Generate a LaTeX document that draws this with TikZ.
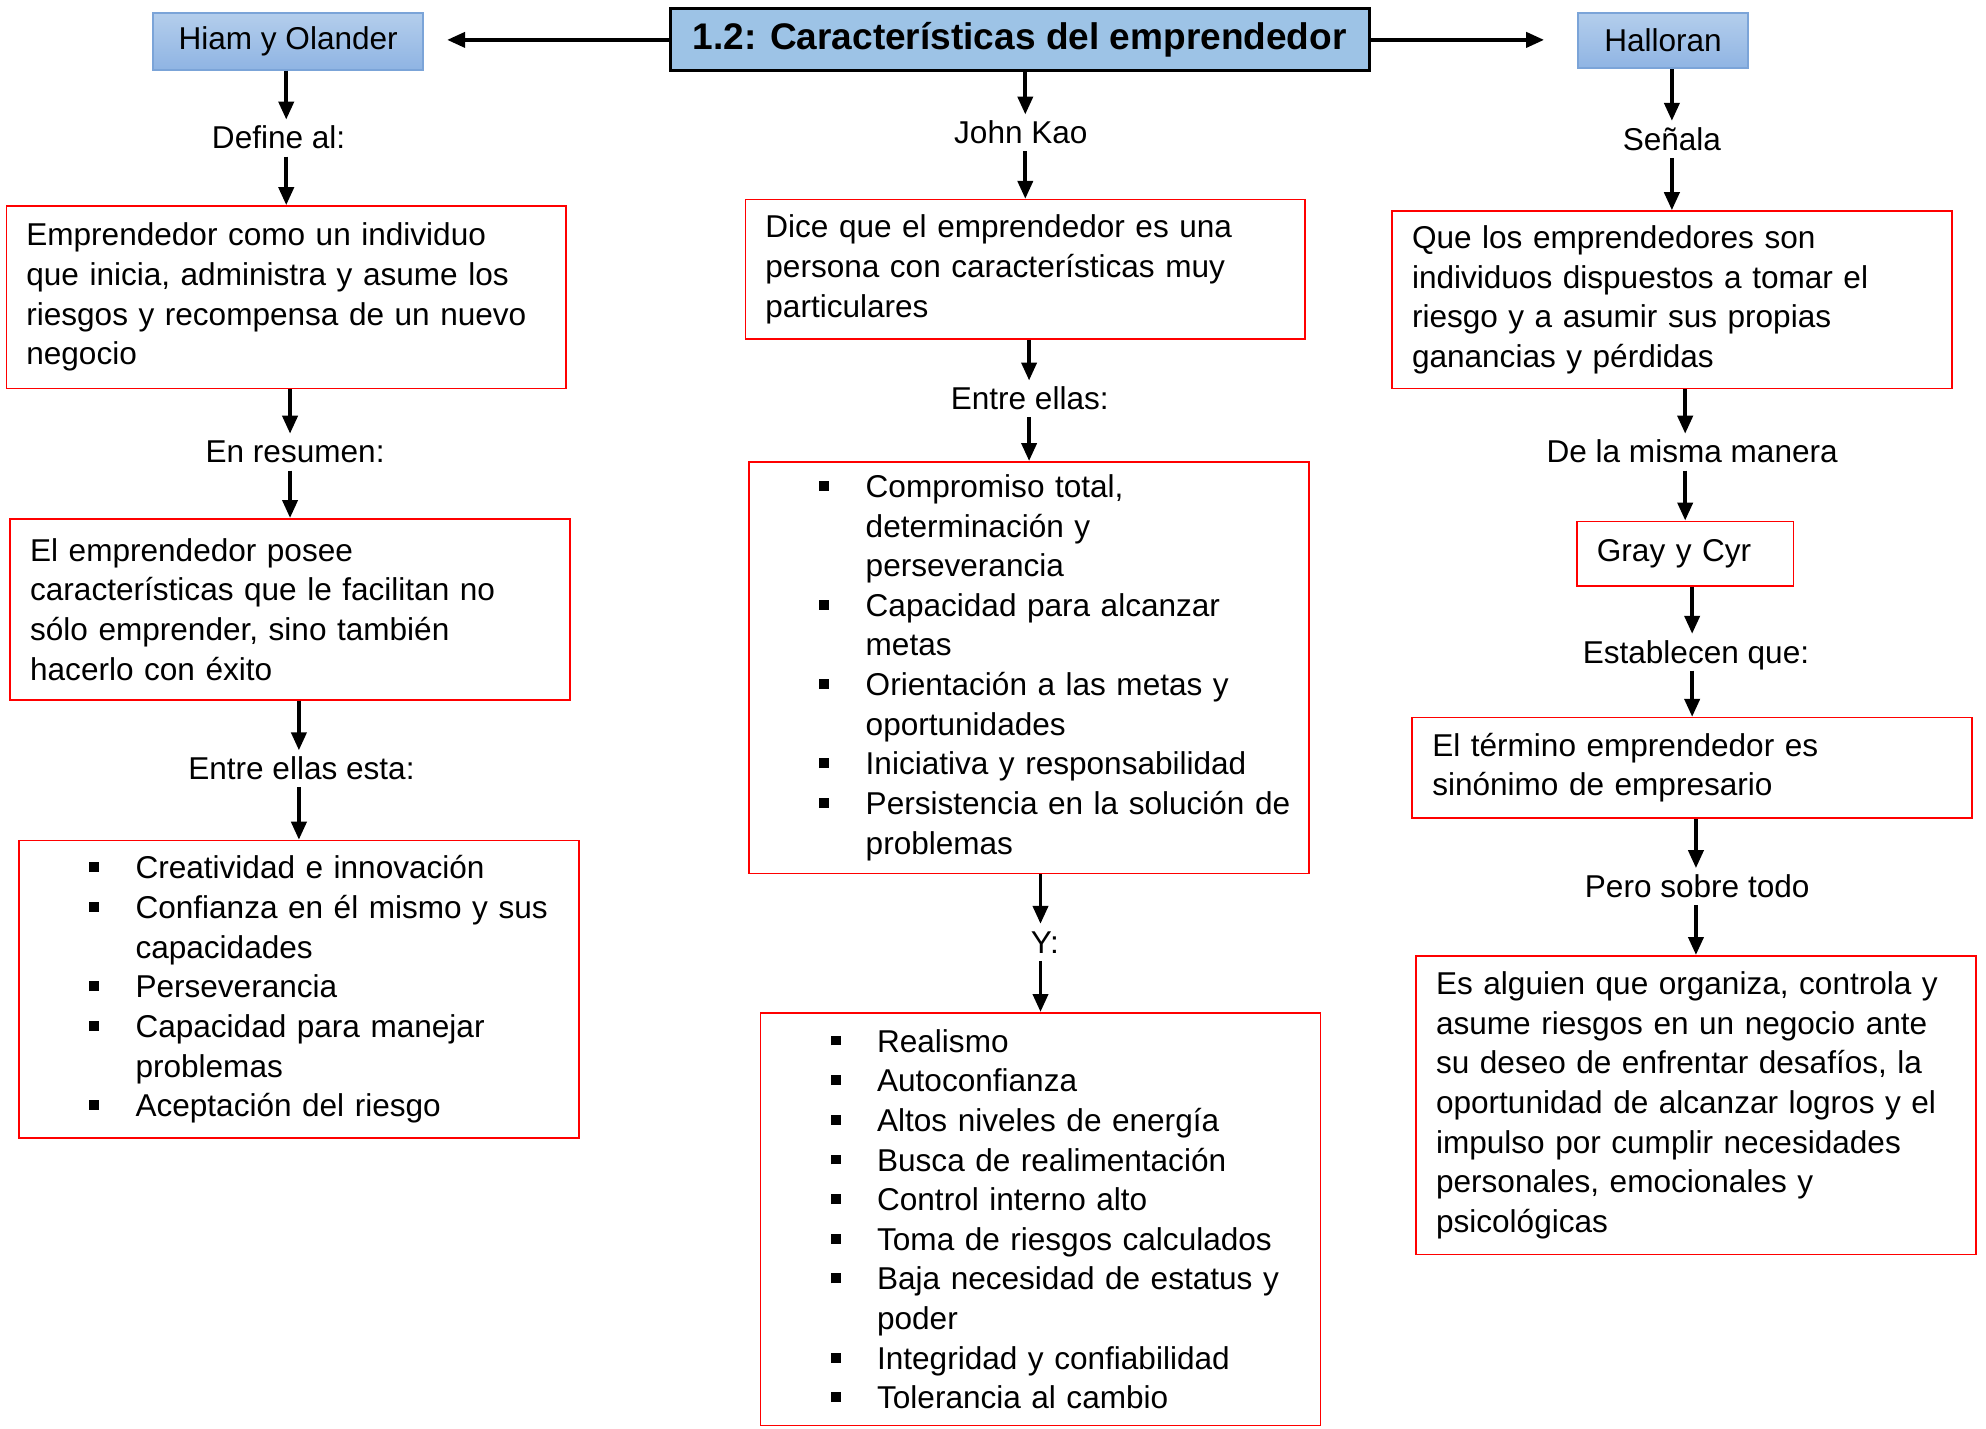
\documentclass[tikz,border=0pt]{standalone}
\usepackage{fontspec}
\setmainfont{Liberation Sans}
\usetikzlibrary{arrows.meta}

\definecolor{titleblue}{HTML}{9DC3E6}
\definecolor{authtop}{HTML}{B4CEEC}
\definecolor{authbot}{HTML}{8FB4E3}
\definecolor{authline}{HTML}{7BA4D8}

\newcommand\itm[1]{\mbox{\makebox[0.965cm][l]{\hspace{0.502cm}\rule[1.9pt]{2.8pt}{2.8pt}}#1}}
\newcommand\cnt[1]{\mbox{\hspace*{0.965cm}#1}}

\begin{document}
\begin{tikzpicture}
  [x=0.12666mm,y=-0.12666mm,
  txt/.style={font=\fontsize{8.98}{11.28}\selectfont},
  titlebox/.style={draw=black,line width=0.8pt,fill=titleblue,minimum width=6.99cm,minimum height=0.62cm,inner sep=0pt,font=\fontsize{10.54}{12}\selectfont\bfseries},
  authbox/.style={txt,draw=authline,line width=0.6pt,top color=authtop,bottom color=authbot,minimum height=0.57cm,inner sep=0pt},
  redbox/.style={txt,draw=red,line width=0.45pt,anchor=north,text width=5.198cm,inner xsep=0.2cm,inner ysep=0pt,align=left},
  link/.style={txt,inner xsep=1pt,inner ysep=1.5pt,text height=6.6pt,text depth=0.5pt},
  arr/.style={-{Triangle[length=1.8mm,width=1.5mm]},line width=1.1pt}]
  \useasboundingbox (0,0) rectangle (1568,1128);

  \node[titlebox] (title) at (805,31.5) {1.2: Características del emprendedor};
  \node[authbox,minimum width=2.698cm] (hiam) at (227.5,32.5) {Hiam y Olander};
  \node[authbox,minimum width=1.697cm,minimum height=0.557cm] (halloran) at (1313,32) {Halloran};

  % Hiam y Olander
  \node[link] (defineal) at (220,109) {Define al:};
  \node[redbox,minimum height=1.824cm] (hiamdef) at (226,162) {Emprendedor como un individuo\\que inicia, administra y asume los\\riesgos y recompensa de un nuevo\\negocio};
  \node[link] (resumen) at (233,357) {En resumen:};
  \node[redbox,minimum height=1.811cm] (hiamres) at (229,409) {El emprendedor posee\\características que le facilitan no\\sólo emprender, sino también\\hacerlo con éxito};
  \node[link] (entreesta) at (238,607) {Entre ellas esta:};
  \node[redbox,minimum height=2.977cm] (hiamlist) at (236,663) {\itm{Creatividad e innovación}\\ \itm{Confianza en él mismo y sus}\\ \cnt{capacidades}\\ \itm{Perseverancia}\\ \itm{Capacidad para manejar}\\ \cnt{problemas}\\ \itm{Aceptación del riesgo}};

  % John Kao
  \node[link] (kao) at (806,105) {John Kao};
  \node[redbox,minimum height=1.393cm] (kaodef) at (809.5,157) {Dice que el emprendedor es una\\persona con características muy\\particulares};
  \node[link] (entreellas) at (813,315) {Entre ellas:};
  \node[redbox,minimum height=4.116cm] (kaolist) at (812.5,364) {\itm{Compromiso total,}\\ \cnt{determinación y}\\ \cnt{perseverancia}\\ \itm{Capacidad para alcanzar}\\ \cnt{metas}\\ \itm{Orientación a las metas y}\\ \cnt{oportunidades}\\ \itm{Iniciativa y responsabilidad}\\ \itm{Persistencia en la solución de}\\ \cnt{problemas}};
  \node[link] (ylink) at (825,744) {Y:};
  \node[redbox,minimum height=4.129cm] (kaomore) at (821.5,799) {\itm{Realismo}\\ \itm{Autoconfianza}\\ \itm{Altos niveles de energía}\\ \itm{Busca de realimentación}\\ \itm{Control interno alto}\\ \itm{Toma de riesgos calculados}\\ \itm{Baja necesidad de estatus y}\\ \cnt{poder}\\ \itm{Integridad y confiabilidad}\\ \itm{Tolerancia al cambio}};

  % Halloran
  \node[link] (senala) at (1320,110) {Señala};
  \node[redbox,minimum height=1.773cm] (halldef) at (1320,166) {Que los emprendedores son\\individuos dispuestos a tomar el\\riesgo y a asumir sus propias\\ganancias y pérdidas};
  \node[link] (misma) at (1336,357) {De la misma manera};
  \node[redbox,text width=1.766cm,minimum height=0.646cm] (gray) at (1330.5,411) {Gray y Cyr};
  \node[link] (establecen) at (1339,515) {Establecen que:};
  \node[redbox,minimum height=1.001cm] (graydef) at (1336,566) {El término emprendedor es\\sinónimo de empresario};
  \node[link] (sobretodo) at (1340,700) {Pero sobre todo};
  \node[redbox,minimum height=2.989cm] (graymore) at (1339,754) {Es alguien que organiza, controla y\\asume riesgos en un negocio ante\\su deseo de enfrentar desafíos, la\\oportunidad de alcanzar logros y el\\impulso por cumplir necesidades\\personales, emocionales y\\psicológicas};

  \draw[arr,shorten >=0.23cm] (title.west) -- (title.west -| hiam.east);
  \draw[arr,shorten >=0.33cm] (title.east) -- (title.east -| halloran.west);

  \draw[arr] (hiamdef.north |- hiam.south) -- (hiamdef.north |- defineal.north);
  \draw[arr] (hiamdef.north |- defineal.south) -- (hiamdef.north);
  \draw[arr] (hiamres.north |- hiamdef.south) -- (hiamres.north |- resumen.north);
  \draw[arr] (hiamres.north |- resumen.south) -- (hiamres.north);
  \draw[arr] (hiamlist.north |- hiamres.south) -- (hiamlist.north |- entreesta.north);
  \draw[arr] (hiamlist.north |- entreesta.south) -- (hiamlist.north);

  \draw[arr] (kaodef.north |- title.south) -- (kaodef.north |- kao.north);
  \draw[arr] (kaodef.north |- kao.south) -- (kaodef.north);
  \draw[arr] (kaolist.north |- kaodef.south) -- (kaolist.north |- entreellas.north);
  \draw[arr] (kaolist.north |- entreellas.south) -- (kaolist.north);
  \draw[arr] (kaomore.north |- kaolist.south) -- (kaomore.north |- ylink.north);
  \draw[arr] (kaomore.north |- ylink.south) -- (kaomore.north);

  \draw[arr] (halldef.north |- halloran.south) -- (halldef.north |- senala.north);
  \draw[arr] (halldef.north |- senala.south) -- (halldef.north);
  \draw[arr] (gray.north |- halldef.south) -- (gray.north |- misma.north);
  \draw[arr] (gray.north |- misma.south) -- (gray.north);
  \draw[arr] (graydef.north |- gray.south) -- (graydef.north |- establecen.north);
  \draw[arr] (graydef.north |- establecen.south) -- (graydef.north);
  \draw[arr] (graymore.north |- graydef.south) -- (graymore.north |- sobretodo.north);
  \draw[arr] (graymore.north |- sobretodo.south) -- (graymore.north);
\end{tikzpicture}
\end{document}
